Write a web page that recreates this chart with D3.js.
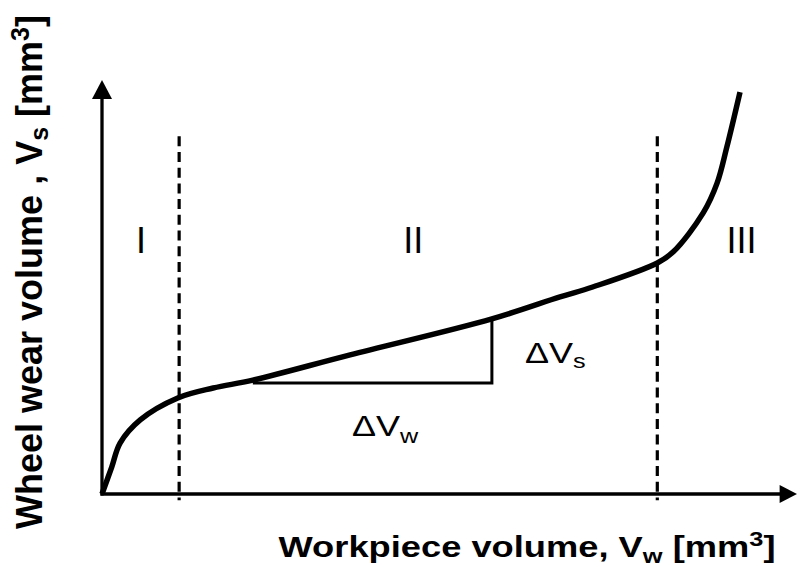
<!DOCTYPE html>
<html>
<head>
<meta charset="utf-8">
<script src="https://cdn.jsdelivr.net/npm/d3@7"></script>
<style>
  body { margin: 0; background: #fff; }
  text { font-family: "Liberation Sans", Arial, sans-serif; fill: #000; }
</style>
</head>
<body>
<svg id="chart" width="798" height="580"></svg>
<script>
// wear curve (arbitrary units 0-100)
const wearX = [0, 1.4, 2.6, 5.5, 10.9, 16.0, 21.7, 35.7, 56.1, 65.9, 70.6, 79.9, 82.2, 86.5, 88.5, 89.9, 91.8];
const wearY = [0, 6.5, 12.3, 17.9, 23.2, 25.6, 27.5, 33.6, 42.3, 47.6, 50.0, 55.8, 58.5, 67.9, 75.1, 83.8, 97.1];

// stage boundaries and stage names
const stageBounds = [11.1, 79.9];
const stageNames = ["I", "II", "III"];
const stageCenters = [5.6, 44.8, 92.0];

// slope triangle in stage II
const triX = [21.7, 56.1];
const triY = [26.8, 42.3];

function wearChart() {

  const svg = d3.select('#chart');

  const x = d3.scaleLinear().domain([0, 100]).range([102, 797]);
  const y = d3.scaleLinear().domain([0, 100]).range([494, 80]);

  // axes with arrow heads
  svg.append('line')
    .attr('x1', x(0)).attr('y1', y(0) + 1.5)
    .attr('x2', x(0)).attr('y2', y(96))
    .attr('stroke', '#000').attr('stroke-width', 3.3);
  svg.append('line')
    .attr('x1', x(0) - 1.5).attr('y1', y(0))
    .attr('x2', x(97.6)).attr('y2', y(0))
    .attr('stroke', '#000').attr('stroke-width', 3.3);

  svg.append('path')
    .attr('d', `M${x(0)},${y(100)} L${x(0) - 10},${y(95.4)} L${x(0) + 10},${y(95.4)} Z`)
    .attr('fill', '#000');
  svg.append('path')
    .attr('d', `M${x(100)},${y(0)} L${x(97.5)},${y(0) - 9} L${x(97.5)},${y(0) + 9} Z`)
    .attr('fill', '#000');

  // dashed stage boundaries
  svg.selectAll('line.bound')
    .data(stageBounds)
    .join('line')
    .attr('class', 'bound')
    .attr('x1', d => x(d)).attr('x2', d => x(d))
    .attr('y1', y(86.4)).attr('y2', y(-1.5))
    .attr('stroke', '#000')
    .attr('stroke-width', 3.2)
    .attr('stroke-dasharray', '10,5.7');

  // slope triangle
  svg.append('path')
    .attr('d', `M${x(triX[0])},${y(triY[0])} L${x(triX[1])},${y(triY[0])} L${x(triX[1])},${y(triY[1])}`)
    .attr('fill', 'none')
    .attr('stroke', '#000')
    .attr('stroke-width', 3);

  // wear curve
  const line = d3.line()
    .x(d => x(d[0]))
    .y(d => y(d[1]))
    .curve(d3.curveCatmullRom);

  svg.append('path')
    .datum(d3.zip(wearX, wearY))
    .attr('d', line)
    .attr('fill', 'none')
    .attr('stroke', '#000')
    .attr('stroke-width', 5.5)
    .attr('stroke-linecap', 'butt');

  // stage names
  svg.selectAll('text.stage')
    .data(stageNames)
    .join('text')
    .attr('class', 'stage')
    .attr('x', (d, i) => x(stageCenters[i]))
    .attr('y', 253)
    .attr('text-anchor', 'middle')
    .style('font-size', '36px')
    .text(d => d);

  // delta labels (the source text is a bit wide, hence the x stretch)
  const dvs = svg.append('text')
    .attr('transform', 'translate(525,363) scale(1.2,1)')
    .style('font-size', '30px');
  dvs.append('tspan').text('\u0394V');
  dvs.append('tspan').attr('dy', 5).style('font-size', '21px').text('s');

  const dvw = svg.append('text')
    .attr('transform', 'translate(352,436) scale(1.2,1)')
    .style('font-size', '30px');
  dvw.append('tspan').text('\u0394V');
  dvw.append('tspan').attr('dy', 7).style('font-size', '21px').text('w');

  // axis titles
  const xt = svg.append('text')
    .attr('transform', 'translate(527,557) scale(1.21,1)')
    .attr('text-anchor', 'middle')
    .style('font-size', '30px')
    .style('font-weight', 'bold');
  xt.append('tspan').text('Workpiece volume, V');
  xt.append('tspan').attr('dy', 6).style('font-size', '21px').text('w');
  xt.append('tspan').attr('dy', -6).text(' [mm');
  xt.append('tspan').attr('dy', -11).style('font-size', '21px').text('3');
  xt.append('tspan').attr('dy', 11).text(']');

  const yt = svg.append('text')
    .attr('transform', 'translate(42,272) rotate(-90)')
    .attr('text-anchor', 'middle')
    .style('font-size', '36px')
    .style('font-weight', 'bold');
  yt.append('tspan').text('Wheel wear volume , V');
  yt.append('tspan').attr('dy', 6).style('font-size', '25px').text('s');
  yt.append('tspan').attr('dy', -6).text(' [mm');
  yt.append('tspan').attr('dy', -13).style('font-size', '25px').text('3');
  yt.append('tspan').attr('dy', 13).text(']');

  return svg;
}

wearChart();
</script>
</body>
</html>
